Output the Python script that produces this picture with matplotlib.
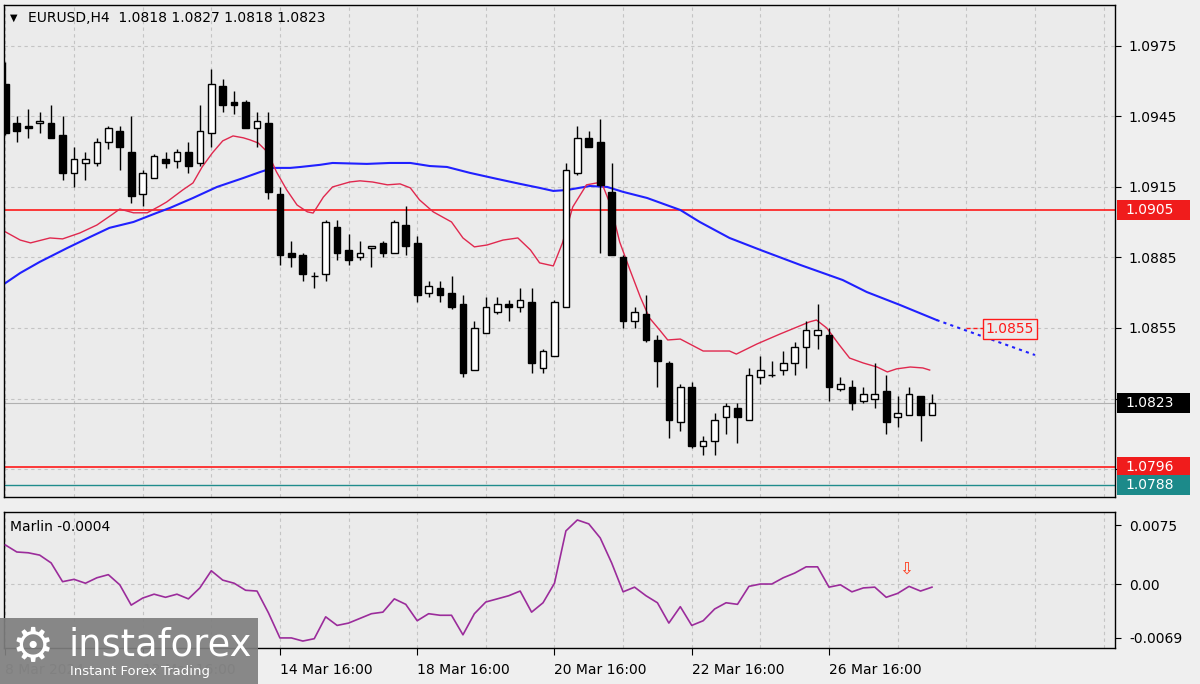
import matplotlib
matplotlib.use("Agg")
import matplotlib.pyplot as plt
import matplotlib.transforms as mtransforms
from matplotlib.patches import Rectangle

# H4 candles, index 0 = 8 Mar 16:00
opens = [1.0959, 1.0942, 1.0941, 1.0942, 1.0942, 1.0937, 1.0921, 1.0925, 1.0925, 1.0934,
         1.0939, 1.0930, 1.0912, 1.0919, 1.0927, 1.0926, 1.0930, 1.0925, 1.0938, 1.0958,
         1.0951, 1.0951, 1.0940, 1.0942, 1.0912, 1.0887, 1.0886, 1.0877, 1.0878, 1.0898,
         1.0888, 1.0885, 1.0889, 1.0891, 1.0887, 1.0899, 1.0891, 1.0870, 1.0872, 1.0870,
         1.0865, 1.0837, 1.0853, 1.0862, 1.0865, 1.0864, 1.0866, 1.0838, 1.0843, 1.0864,
         1.0921, 1.0936, 1.0934, 1.0913, 1.0885, 1.0858, 1.0861, 1.0850, 1.0840, 1.0815,
         1.0830, 1.0805, 1.0807, 1.0817, 1.0821, 1.0816, 1.0834, 1.0835, 1.0837, 1.0840,
         1.0847, 1.0852, 1.0852, 1.0829, 1.0830, 1.0824, 1.0825, 1.0828, 1.0817, 1.0818,
         1.0826, 1.0818]
highs = [1.0968, 1.0945, 1.0948, 1.0947, 1.0950, 1.0945, 1.0932, 1.0930, 1.0936, 1.0941,
         1.0941, 1.0945, 1.0922, 1.0929, 1.0930, 1.0931, 1.0934, 1.0950, 1.0965, 1.0961,
         1.0956, 1.0952, 1.0947, 1.0947, 1.0915, 1.0892, 1.0887, 1.0879, 1.0901, 1.0901,
         1.0895, 1.0892, 1.0890, 1.0892, 1.0901, 1.0907, 1.0894, 1.0875, 1.0875, 1.0877,
         1.0869, 1.0858, 1.0868, 1.0868, 1.0867, 1.0872, 1.0872, 1.0846, 1.0867, 1.0925,
         1.0941, 1.0939, 1.0944, 1.0925, 1.0886, 1.0864, 1.0869, 1.0852, 1.0841, 1.0831,
         1.0832, 1.0809, 1.0819, 1.0823, 1.0823, 1.0838, 1.0843, 1.0841, 1.0845, 1.0849,
         1.0858, 1.0865, 1.0855, 1.0834, 1.0833, 1.0830, 1.0840, 1.0835, 1.0826, 1.0830,
         1.0826, 1.0827]
lows = [1.0937, 1.0934, 1.0936, 1.0938, 1.0936, 1.0918, 1.0915, 1.0918, 1.0924, 1.0931,
        1.0922, 1.0908, 1.0907, 1.0919, 1.0923, 1.0923, 1.0921, 1.0924, 1.0932, 1.0947,
        1.0946, 1.0940, 1.0932, 1.0910, 1.0882, 1.0881, 1.0875, 1.0872, 1.0875, 1.0884,
        1.0882, 1.0884, 1.0881, 1.0885, 1.0887, 1.0886, 1.0866, 1.0868, 1.0866, 1.0863,
        1.0834, 1.0837, 1.0853, 1.0861, 1.0858, 1.0862, 1.0836, 1.0836, 1.0843, 1.0864,
        1.0920, 1.0932, 1.0887, 1.0886, 1.0855, 1.0855, 1.0849, 1.0830, 1.0808, 1.0811,
        1.0804, 1.0801, 1.0801, 1.0810, 1.0806, 1.0816, 1.0831, 1.0834, 1.0835, 1.0835,
        1.0838, 1.0846, 1.0824, 1.0828, 1.0820, 1.0823, 1.0821, 1.0810, 1.0813, 1.0818,
        1.0807, 1.0818]
closes = [1.0938, 1.0939, 1.0940, 1.0943, 1.0936, 1.0921, 1.0927, 1.0927, 1.0934, 1.0940,
          1.0932, 1.0911, 1.0921, 1.0928, 1.0925, 1.0930, 1.0924, 1.0939, 1.0959, 1.0950,
          1.0950, 1.0940, 1.0943, 1.0913, 1.0886, 1.0885, 1.0878, 1.0877, 1.0900, 1.0887,
          1.0884, 1.0887, 1.0890, 1.0887, 1.0900, 1.0890, 1.0869, 1.0873, 1.0869, 1.0864,
          1.0836, 1.0855, 1.0864, 1.0865, 1.0864, 1.0867, 1.0840, 1.0845, 1.0866, 1.0922,
          1.0936, 1.0932, 1.0916, 1.0886, 1.0858, 1.0862, 1.0850, 1.0841, 1.0816, 1.0830,
          1.0805, 1.0807, 1.0816, 1.0822, 1.0817, 1.0835, 1.0837, 1.0835, 1.0840, 1.0847,
          1.0854, 1.0854, 1.0830, 1.0831, 1.0823, 1.0827, 1.0827, 1.0815, 1.0819, 1.0827,
          1.0818, 1.0823]

# fast MA (red)
red_ma_x = [0.0, 1.3, 2.2, 3.9, 5.0, 6.5, 8.0, 9.4, 10.0, 11.2, 12.4, 13.5, 14.1, 15.5, 16.4,
            17.2, 18.1, 19.0, 19.9, 20.8, 21.4, 22.1, 22.9, 23.7, 24.6, 25.5, 26.4, 26.9, 27.2,
            27.8, 28.6, 30.1, 31.0, 32.1, 33.4, 34.5, 35.4, 36.2, 37.4, 39.0, 40.0, 41.0, 42.1,
            43.5, 44.8, 45.9, 46.7, 47.9, 48.7, 49.6, 50.8, 51.7, 52.2, 52.9, 53.7, 54.6, 55.5,
            56.3, 57.2, 57.9, 59.0, 61.0, 63.3, 63.9, 65.7, 67.7, 69.2, 70.3, 70.9, 71.8, 72.9,
            73.8, 75.0, 76.2, 77.1, 77.9, 79.1, 80.2, 80.8]
red_ma_y = [1.08959, 1.08924, 1.08912, 1.08933, 1.08929, 1.08954, 1.08988, 1.09035, 1.09056,
            1.09040, 1.09040, 1.09069, 1.09086, 1.09137, 1.09167, 1.09235, 1.09295, 1.09346,
            1.09367, 1.09359, 1.09350, 1.09337, 1.09299, 1.09214, 1.09137, 1.09073, 1.09044,
            1.09039, 1.09061, 1.09107, 1.09150, 1.09171, 1.09176, 1.09171, 1.09159, 1.09163,
            1.09146, 1.09095, 1.09044, 1.09001, 1.08933, 1.08895, 1.08903, 1.08924, 1.08933,
            1.08882, 1.08827, 1.08814, 1.08912, 1.09065, 1.09159, 1.09167, 1.09159, 1.09073,
            1.08916, 1.08797, 1.08682, 1.08593, 1.08541, 1.08499, 1.08503, 1.08452, 1.08452,
            1.08439, 1.08482, 1.08524, 1.08554, 1.08576, 1.08584, 1.08550, 1.08478, 1.08422,
            1.08401, 1.08384, 1.08363, 1.08376, 1.08384, 1.08380, 1.08371]

# slow MA (blue)
blue_ma_x = [0.0, 1.3, 3.0, 5.4, 7.4, 9.1, 11.2, 13.2, 14.4, 16.4, 18.5, 20.8, 22.3, 23.4,
             24.9, 25.8, 27.5, 28.6, 31.6, 33.6, 35.4, 37.1, 38.6, 40.6, 43.0, 45.0, 46.7,
             47.9, 49.1, 51.1, 52.6, 54.0, 56.1, 57.8, 59.0, 60.7, 63.3, 66.0, 69.5, 73.2,
             75.3, 78.2, 81.4]
blue_ma_y = [1.08741, 1.08784, 1.08831, 1.08890, 1.08937, 1.08976, 1.09001, 1.09039, 1.09061,
             1.09103, 1.09150, 1.09188, 1.09214, 1.09231, 1.09231, 1.09235, 1.09244, 1.09252,
             1.09248, 1.09252, 1.09252, 1.09239, 1.09235, 1.09210, 1.09184, 1.09163, 1.09146,
             1.09133, 1.09137, 1.09154, 1.09150, 1.09129, 1.09103, 1.09073, 1.09052, 1.09001,
             1.08933, 1.08882, 1.08818, 1.08754, 1.08703, 1.08648, 1.08584]
blue_proj_x = [81.4, 90.0]
blue_proj_y = [1.08584, 1.08435]

marlin = [0.0050, 0.0041, 0.0040, 0.0037, 0.0027, 0.0003, 0.0006, 0.0001, 0.0008, 0.0012,
          -0.0001, -0.0027, -0.0018, -0.0013, -0.0017, -0.0013, -0.0019, -0.0005, 0.0017, 0.0005,
          0.0001, -0.0008, -0.0009, -0.0037, -0.0069, -0.0069, -0.0073, -0.0070, -0.0042, -0.0053,
          -0.0050, -0.0044, -0.0038, -0.0036, -0.0019, -0.0026, -0.0047, -0.0038, -0.0040, -0.0040,
          -0.0065, -0.0038, -0.0023, -0.0019, -0.0015, -0.0009, -0.0036, -0.0024, 0.0001, 0.0068,
          0.0082, 0.0077, 0.0059, 0.0027, -0.0010, -0.0004, -0.0015, -0.0024, -0.0050, -0.0029,
          -0.0053, -0.0047, -0.0032, -0.0024, -0.0026, -0.0003, 0.0000, 0.0000, 0.0008, 0.0014,
          0.0022, 0.0022, -0.0004, -0.0001, -0.0010, -0.0005, -0.0004, -0.0017, -0.0012, -0.0003,
          -0.0009, -0.0004]

resistance = 1.0905
support = 1.0796
support2 = 1.0788
target = 1.0855
target_x = 85.6
arrow_x, arrow_y = 78.7, 0.0020

price_ticks = [1.0795, 1.0825, 1.0855, 1.0885, 1.0915, 1.0945, 1.0975]
price_ticklabels = ['', '', '1.0855', '1.0885', '1.0915', '1.0945', '1.0975']
time_ticks = [0, 12, 24, 36, 48, 60, 72]
time_labels = ['8 Mar 2024', '12 Mar 16:00', '14 Mar 16:00', '18 Mar 16:00',
               '20 Mar 16:00', '22 Mar 16:00', '26 Mar 16:00']

BG = '#ebebeb'
GRID = '#c4c4c4'
plt.rcParams['font.family'] = ['DejaVu Sans']

fig = plt.figure(figsize=(12, 6.84), dpi=100)
fig.patch.set_facecolor('#efefef')
ax = fig.add_axes([4 / 1200, 1 - 497 / 684, 1111 / 1200, 492 / 684])
ax2 = fig.add_axes([4 / 1200, 1 - 648 / 684, 1111 / 1200, 136 / 684])

for a in (ax, ax2):
    a.set_facecolor(BG)
    a.set_xlim(-0.12, 97.0)
    for s in a.spines.values():
        s.set_color('black')
        s.set_linewidth(1)
    for gx in range(0, 97, 6):
        a.axvline(gx, color=GRID, lw=0.8, dashes=(3, 3), zorder=0)
    a.yaxis.tick_right()
    a.tick_params(axis='y', direction='out', length=4, pad=6, labelsize=10, colors='black')

# price panel
ax.set_ylim(1.07831, 1.09924)
ax.set_yticks(price_ticks)
ax.set_yticklabels(price_ticklabels)
for t in price_ticks:
    ax.axhline(t, color=GRID, lw=0.8, dashes=(3, 3), zorder=0)
ax.set_xticks([])

ax.axhline(closes[-1], color='#b0b0b0', lw=0.8, zorder=1)
ax.axhline(resistance, color='#ff1a1a', lw=1.2, zorder=1)
ax.axhline(support, color='#ff1a1a', lw=1.2, zorder=1)
ax.axhline(support2, color='#1f8c8c', lw=1.0, zorder=1)

ax.plot(blue_ma_x, blue_ma_y, color='#2020ff', lw=1.5, zorder=2)
ax.plot(blue_proj_x, blue_proj_y, color='#2020ff', lw=1.5, ls=(0, (1.5, 2)), zorder=2)
ax.plot(red_ma_x, red_ma_y, color='#e0284e', lw=1.0, zorder=2)

for i, (o, h, l, c) in enumerate(zip(opens, highs, lows, closes)):
    ax.vlines(i, l, h, color='black', lw=1.0, zorder=3)
    ax.bar(i, max(abs(c - o), 0.00002), bottom=min(o, c), width=0.58,
           facecolor='white' if c >= o else 'black', edgecolor='black', lw=1.0, zorder=4)

# projection label
ax.plot([target_x - 1.6, target_x], [target, target], color='#ff1a1a', lw=1.0,
        ls=(0, (3, 2)), zorder=2)
ax.text(target_x + 0.1, target - 0.00005, f'{target:.4f}', color='#ff1a1a', fontsize=10,
        ha='left', va='center', zorder=5,
        bbox=dict(boxstyle='square,pad=0.2', facecolor=BG, edgecolor='#ff1a1a', lw=1))

# boxed price labels on the right scale
trans = mtransforms.blended_transform_factory(ax.transAxes, ax.transData)
box_h = 20 / 23500
for val, fc in [(resistance, '#f01c1c'), (closes[-1], '#000000'),
                (support, '#f01c1c'), (support2, '#1c8a8a')]:
    ax.add_patch(Rectangle((1.0018, val - box_h / 2), 73 / 1111, box_h, transform=trans,
                           facecolor=fc, edgecolor='none', clip_on=False, zorder=6))
    ax.text(1.0095, val, f'{val:.4f}', transform=trans, color='white', fontsize=10,
            ha='left', va='center', clip_on=False, zorder=7)

ax.text(0.0054, 0.974, '\u25bc', transform=ax.transAxes, fontsize=7, ha='left', va='center')
ax.text(0.0215, 0.974,
        f'EURUSD,H4  {opens[-1]:.4f} {highs[-1]:.4f} {lows[-1]:.4f} {closes[-1]:.4f}',
        transform=ax.transAxes, fontsize=10, ha='left', va='center')

# Marlin panel
ax2.set_ylim(-0.00819, 0.00922)
ax2.set_yticks([0.0075, 0.0, -0.0069])
ax2.set_yticklabels(['0.0075', '0.00', '-0.0069'])
ax2.axhline(0.0, color=GRID, lw=0.8, dashes=(3, 3), zorder=0)
ax2.plot(range(len(marlin)), marlin, color='#9b2c9b', lw=1.2, zorder=3)
ax2.text(arrow_x, arrow_y, '\u21e9', color='#ff3a1a', fontsize=12, ha='center', va='center')
ax2.text(0.0054, 0.89, f'Marlin {marlin[-1]:.4f}', transform=ax2.transAxes, fontsize=10,
         ha='left', va='center')
ax2.set_xticks(time_ticks)
ax2.set_xticklabels(time_labels, ha='left')
ax2.tick_params(axis='x', direction='out', length=5, pad=6, labelsize=10)
# the first two date labels sit under the watermark and only show through faintly
for lbl in ax2.get_xticklabels()[:2]:
    lbl.set_color('#9a9a9a')

# watermark
fig.patches.append(Rectangle((0, 0), 258 / 1200, 66 / 684, transform=fig.transFigure,
                             facecolor='#7f7f7f', alpha=0.92, edgecolor='none', zorder=10))
fig.text(33 / 1200, 1 - 648 / 684, '\u2699', color='white', fontsize=34, ha='center',
         va='center', zorder=11)
fig.text(68 / 1200, 1 - 645 / 684, 'instaforex', color='white', fontsize=26.5, ha='left',
         va='center', zorder=11)
fig.text(70 / 1200, 1 - 671 / 684, 'Instant Forex Trading', color='white', fontsize=9.5,
         ha='left', va='center', zorder=11)

fig.savefig('out.png', dpi=100, facecolor=fig.get_facecolor())
